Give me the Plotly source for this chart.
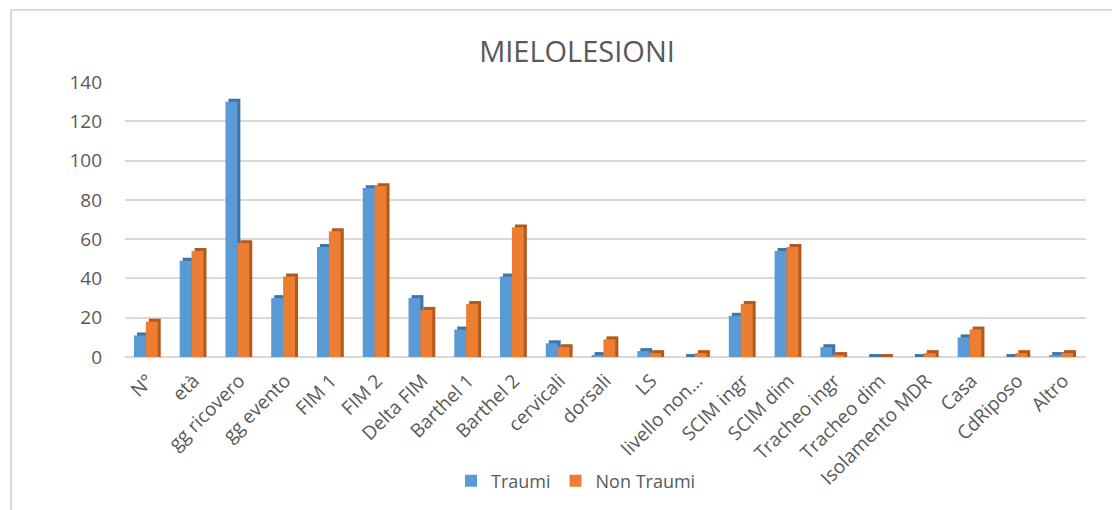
import plotly.graph_objects as go

categories = ["N°", "età", "gg ricovero", "gg evento", "FIM 1", "FIM 2", "Delta FIM",
              "Barthel 1", "Barthel 2", "cervicali", "dorsali", "LS", "livello non…",
              "SCIM ingr", "SCIM dim", "Tracheo ingr", "Tracheo dim", "Isolamento MDR",
              "Casa", "CdRiposo", "Altro"]
traumi = [11, 49, 130, 30, 56, 86, 30, 14, 41, 7, 1, 3, 0, 21, 54, 5, 0, 0, 10, 0, 1]
non_traumi = [18, 54, 58, 41, 64, 87, 24, 27, 66, 5, 9, 2, 2, 27, 56, 1, 0, 2, 14, 2, 2]

BLUE, BLUE_DARK = "#5B9BD5", "#3F74A6"
ORANGE, ORANGE_DARK = "#ED7D31", "#B25A1E"
GREY = "#595959"

# the page body has an 8px margin, so margins are shifted by that amount
L, R, T, B = 117, 42, 74, 161
PW, PH = 1120 - L - R, 510 - T - B

w = 0.26
depth_x = 0.066
depth_y = 1.5

fig = go.Figure()
# fake 3D: darker side piece pushed to the right and a bit higher, front face on top
for name, vals, col, dark, off in [("Traumi", traumi, BLUE, BLUE_DARK, -0.305),
                                   ("Non Traumi", non_traumi, ORANGE, ORANGE_DARK, -0.045)]:
    fig.add_trace(go.Bar(x=categories, y=[v + depth_y for v in vals], offset=off + depth_x, width=w,
                         marker=dict(color=dark, line=dict(width=0)),
                         showlegend=False, hoverinfo="skip"))
    fig.add_trace(go.Bar(x=categories, y=vals, name=name, offset=off, width=w,
                         marker=dict(color=col, line=dict(width=0))))

fig.update_layout(
    width=1120, height=510,
    barmode="overlay",
    paper_bgcolor="white", plot_bgcolor="white",
    margin=dict(l=L, r=R, t=T, b=B),
    font=dict(family="Open Sans", color=GREY),
    title=dict(text="MIELOLESIONI", x=569 / 1120, xanchor="center", y=1 - 44 / 510, yanchor="middle",
               font=dict(size=29, color=GREY)),
    xaxis=dict(tickangle=-45, tickfont=dict(size=19, color=GREY), showgrid=False,
               showline=False, ticks="", ticklabelstandoff=8),
    yaxis=dict(range=[0, 140], dtick=20, tickfont=dict(size=19, color=GREY),
               gridcolor="#D9D9D9", gridwidth=2, zeroline=True, zerolinecolor="#D9D9D9",
               zerolinewidth=2, ticks="", ticklabelstandoff=22),
    legend=dict(orientation="h", x=(568 - L) / PW, xanchor="center", y=(T + PH - 473) / PH,
                yanchor="middle", font=dict(size=18, color=GREY), itemwidth=30,
                traceorder="normal"),
)
# frame of the chart area: only top and left edges are visible
fx = (3 - L) / PW
fy = (T + PH - 2) / PH
fig.add_shape(type="line", xref="paper", yref="paper", x0=fx, x1=(1120 - L) / PW, y0=fy, y1=fy,
              line=dict(color="#D9D9D9", width=2))
fig.add_shape(type="line", xref="paper", yref="paper", x0=fx, x1=fx, y0=-B / PH, y1=fy,
              line=dict(color="#D9D9D9", width=2))

fig.write_html("out.html")
